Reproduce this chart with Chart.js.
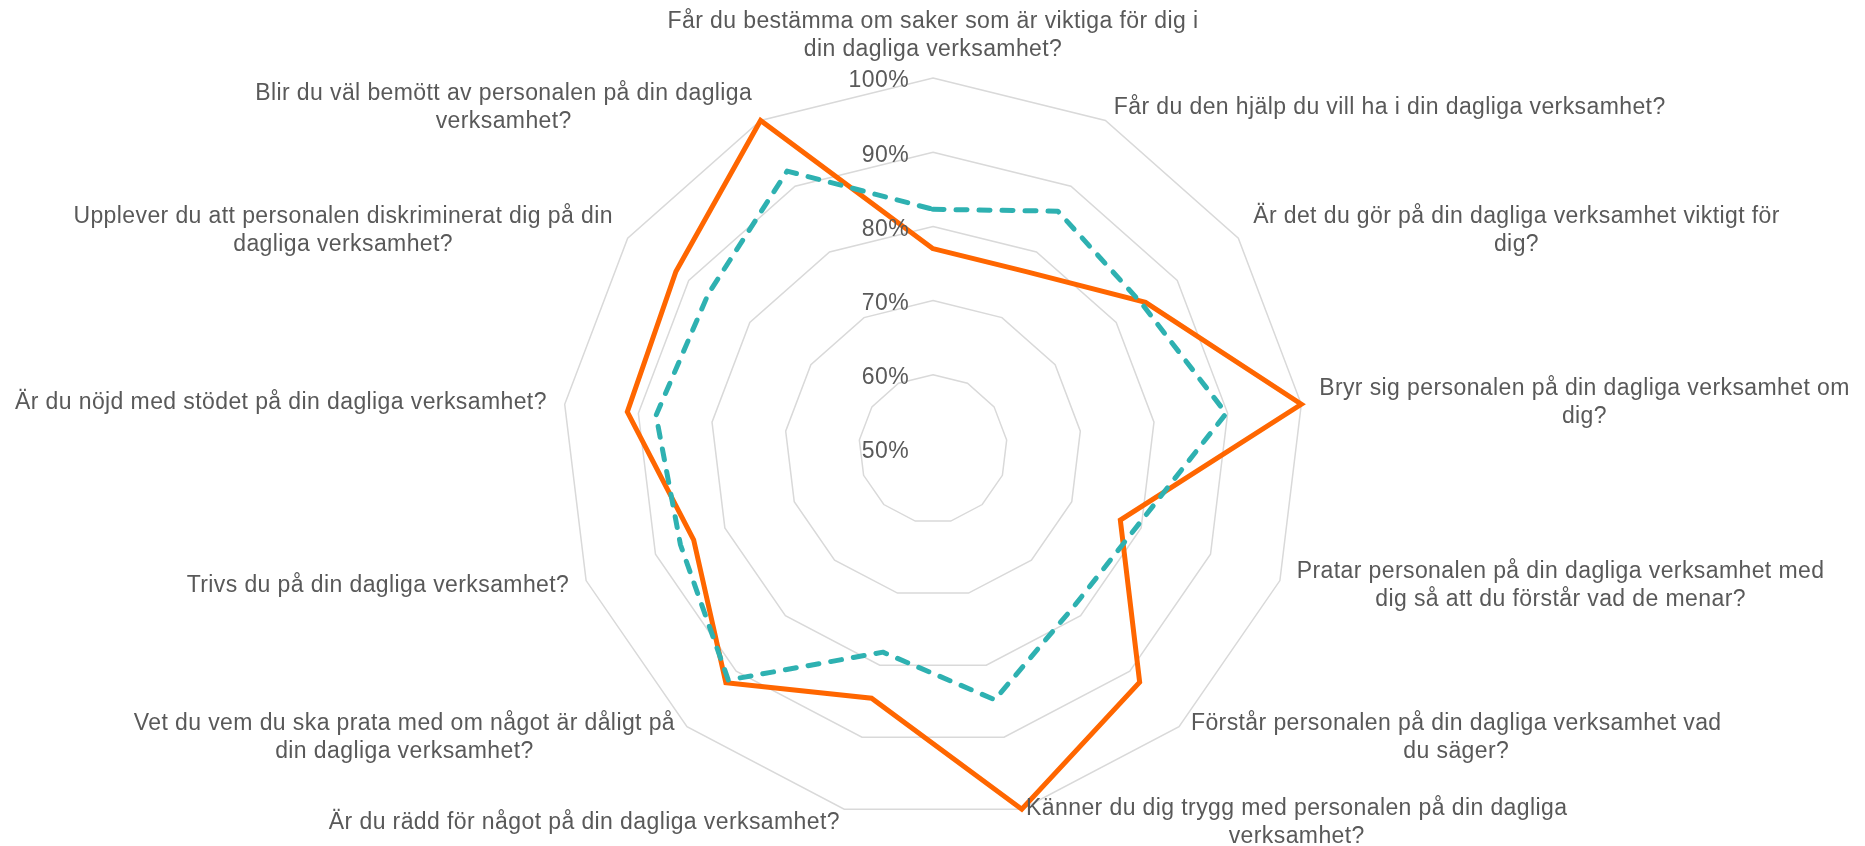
<!DOCTYPE html>
<html lang="sv">
<head>
<meta charset="utf-8">
<title>Radar</title>
<script src="https://cdn.jsdelivr.net/npm/chart.js@4.4.1/dist/chart.umd.min.js"></script>
<style>
  html, body { margin: 0; padding: 0; background: #fff; }
  canvas { display: block; }
</style>
</head>
<body>
<canvas id="radarChart" width="1865" height="846"></canvas>
<script>
// questions, clockwise from the top (line breaks as in the original)
const categories = [
  ['Får du bestämma om saker som är viktiga för dig i', 'din dagliga verksamhet?'],
  ['Får du den hjälp du vill ha i din dagliga verksamhet?'],
  ['Är det du gör på din dagliga verksamhet viktigt för', 'dig?'],
  ['Bryr sig personalen på din dagliga verksamhet om', 'dig?'],
  ['Pratar personalen på din dagliga verksamhet med', 'dig så att du förstår vad de menar?'],
  ['Förstår personalen på din dagliga verksamhet vad', 'du säger?'],
  ['Känner du dig trygg med personalen på din dagliga', 'verksamhet?'],
  ['Är du rädd för något på din dagliga verksamhet?'],
  ['Vet du vem du ska prata med om något är dåligt på', 'din dagliga verksamhet?'],
  ['Trivs du på din dagliga verksamhet?'],
  ['Är du nöjd med stödet på din dagliga verksamhet?'],
  ['Upplever du att personalen diskriminerat dig på din', 'dagliga verksamhet?'],
  ['Blir du väl bemött av personalen på din dagliga', 'verksamhet?']
];

// orange solid line
const seriesOrange = [77, 77, 84.8, 100, 77, 92, 100, 84.6, 92.1, 84.5, 91.5, 92.1, 100];
// teal dashed line
const seriesTeal = [82.3, 86.2, 84.3, 89.8, 79.4, 78.5, 84.8, 78.2, 91.6, 86.4, 87.6, 86.8, 92.3];

const tickValues = [50, 60, 70, 80, 90, 100];

const textColor = '#595959';
const textFont = '23px "Liberation Sans", Arial, sans-serif';

// Excel-like labels: ticks left of the vertical axis, centred multi-line point labels
const excelLabels = {
  id: 'excelLabels',
  afterDatasetsDraw(chart) {
    const scale = chart.scales.r;
    const ctx = chart.ctx;
    ctx.save();
    ctx.font = textFont;
    ctx.fillStyle = textColor;
    if ('letterSpacing' in ctx) ctx.letterSpacing = '0.4px';
    ctx.textBaseline = 'middle';

    ctx.textAlign = 'right';
    tickValues.forEach(v => {
      const d = scale.getDistanceFromCenterForValue(v);
      ctx.fillText(v + '%', scale.xCenter - 24, scale.yCenter - d + 3);
    });

    const lh = 28;
    ctx.textAlign = 'center';
    categories.forEach((lines, i) => {
      const px = scale.getPointPosition(i, scale.drawingArea + 18);
      const py = scale.getPointPosition(i, scale.drawingArea + 14);
      const w = Math.max(...lines.map(l => ctx.measureText(l).width));
      const dx = px.x - scale.xCenter;
      const h = lines.length * lh;
      let cx = px.x;
      let top = py.y - h / 2;
      if (Math.abs(dx) < 1) {
        top = px.y - h + 4;
      } else if (dx > 0) {
        cx = px.x + w / 2;
      } else {
        cx = px.x - w / 2;
      }
      lines.forEach((l, k) => ctx.fillText(l, cx, top + lh * k + lh / 2));
    });
    ctx.restore();
  }
};

const ctx = document.getElementById('radarChart').getContext('2d');

const radar = new Chart(ctx, {
  type: 'radar',
  data: {
    labels: categories,
    datasets: [{
      label: 'Serie 1',
      data: seriesOrange,
      borderColor: '#ff6600',
      backgroundColor: 'rgba(0,0,0,0)',
      borderWidth: 5,
      borderJoinStyle: 'miter',
      fill: false,
      pointRadius: 0,
      pointHoverRadius: 0,
      order: 1
    }, {
      label: 'Serie 2',
      data: seriesTeal,
      borderColor: '#2eb1b1',
      backgroundColor: 'rgba(0,0,0,0)',
      borderWidth: 5,
      borderDash: [11, 12],
      borderCapStyle: 'round',
      borderJoinStyle: 'round',
      fill: false,
      pointRadius: 0,
      pointHoverRadius: 0,
      order: 0
    }]
  },
  options: {
    responsive: false,
    devicePixelRatio: 1,
    animation: false,
    layout: {
      padding: { left: 562, right: 561, top: 78, bottom: 26 }
    },
    plugins: {
      legend: { display: false },
      tooltip: { enabled: false }
    },
    elements: {
      line: { tension: 0 }
    },
    scales: {
      r: {
        min: 50,
        max: 100,
        ticks: { display: false, stepSize: 10 },
        grid: { color: '#d9d9d9', lineWidth: 1.5, circular: false },
        angleLines: { display: false },
        pointLabels: { display: false }
      }
    }
  },
  plugins: [excelLabels]
});
</script>
</body>
</html>
